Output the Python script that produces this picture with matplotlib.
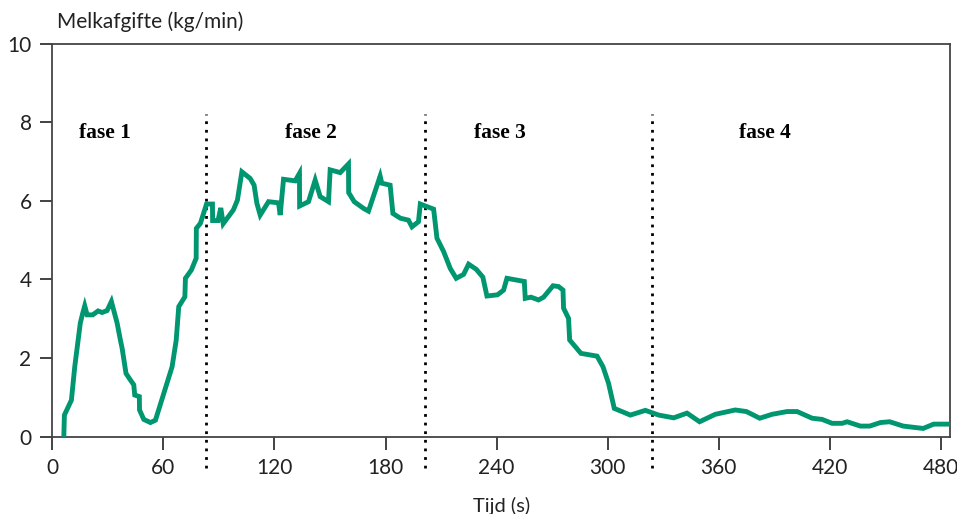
import numpy as np
import matplotlib
matplotlib.use('Agg')
import matplotlib.pyplot as plt

plt.rcParams['font.family'] = ['Lato', 'DejaVu Sans']

# melk flow: time (s), flow (kg/min)
tijd = [6.2, 6.5, 10.3, 12.1, 15.1, 16.4, 17.5, 18.8, 21.8, 24.7, 26.9, 29.6,
        31.9, 35.0, 36.8, 37.7, 39.8, 42.2, 44.0, 44.5, 47.0, 47.1, 49.4, 53.0,
        55.7, 60.2, 64.7, 66.9, 68.3, 71.6, 71.9, 75.1, 77.7, 77.8, 80.0, 83.3,
        86.5, 86.6, 89.5, 91.0, 92.3, 97.8, 100.0, 102.4, 106.9, 109.0, 110.5,
        112.3, 116.8, 122.2, 123.1, 124.9, 131.2, 133.5, 133.6, 138.4, 142.0,
        144.7, 149.2, 150.1, 155.5, 160.0, 160.1, 163.1, 168.1, 170.8, 177.1,
        178.0, 182.5, 184.0, 188.0, 192.4, 194.3, 197.8, 198.8, 206.0, 207.8,
        211.4, 215.0, 218.2, 222.2, 224.9, 229.0, 232.6, 234.8, 240.5, 243.8,
        245.6, 255.0, 255.5, 258.6, 262.7, 265.4, 270.5, 273.5, 275.9, 276.2,
        278.9, 279.5, 285.6, 294.3, 297.5, 300.5, 303.6, 312.3, 320.4, 327.6,
        335.7, 342.9, 349.7, 358.2, 369.0, 375.0, 382.2, 388.9, 397.0, 402.4,
        410.5, 415.9, 421.3, 426.7, 429.4, 436.6, 441.6, 447.4, 452.4, 459.7,
        465.1, 470.5, 476.2, 490.0]
melk = [0.0, 0.55, 0.93, 1.78, 2.89, 3.14, 3.33, 3.10, 3.10, 3.20, 3.16, 3.21,
        3.44, 2.89, 2.45, 2.25, 1.61, 1.44, 1.32, 1.06, 1.02, 0.68, 0.44, 0.36,
        0.42, 1.10, 1.78, 2.45, 3.31, 3.56, 4.03, 4.24, 4.54, 5.30, 5.43, 5.92,
        5.92, 5.50, 5.50, 5.82, 5.42, 5.77, 6.02, 6.74, 6.57, 6.40, 5.94,
        5.64, 5.98, 5.95, 5.64, 6.55, 6.51, 6.70, 5.87, 5.98, 6.53,
        6.11, 5.98, 6.79, 6.72, 6.94, 6.21, 5.98, 5.81, 5.74, 6.63,
        6.45, 6.40, 5.68, 5.56, 5.51, 5.34, 5.47, 5.92, 5.79, 5.05,
        4.71, 4.28, 4.03, 4.13, 4.39, 4.26, 4.06, 3.58, 3.61, 3.73,
        4.03, 3.95, 3.52, 3.55, 3.48, 3.55, 3.84, 3.82, 3.73, 3.27,
        3.01, 2.46, 2.12, 2.05, 1.78, 1.36, 0.72, 0.55, 0.67, 0.55,
        0.48, 0.60, 0.38, 0.57, 0.68, 0.64, 0.47, 0.57, 0.64, 0.64,
        0.47, 0.44, 0.34, 0.34, 0.38, 0.27, 0.27, 0.36, 0.38, 0.27,
        0.24, 0.21, 0.32, 0.32]

fase_grens = [83, 201.5, 324]
fase_namen = ['fase 1', 'fase 2', 'fase 3', 'fase 4']
fase_x = [28.5, 139.5, 242, 385]

fig = plt.figure(figsize=(9.57, 5.14), dpi=100)
ax = fig.add_axes([0.0547, 0.1504, 0.9380, 0.7646])

ax.plot(tijd, melk, color='#009670', lw=3.5, solid_joinstyle='miter', zorder=3)

for g in fase_grens:
    ax.plot([g, g], [-0.8, 8.2], color='black', lw=2.0,
            linestyle=(0, (1, 2.1)), clip_on=False, zorder=2)

for naam, fx in zip(fase_namen, fase_x):
    ax.text(fx, 7.72, naam, ha='center', va='center', fontsize=15.5,
            fontweight='bold', family=['Liberation Serif', 'DejaVu Serif'])

ax.set_xlim(0, 485)
ax.set_ylim(0, 10)
ax.set_xticks([0, 60, 120, 180, 240, 300, 360, 420, 480])
ax.set_yticks([0, 2, 4, 6, 8, 10])
ax.tick_params(direction='out', length=9, width=1.2, colors='#222222',
               labelsize=15, pad=6)
for s in ax.spines.values():
    s.set_color('#444444')
    s.set_linewidth(1.3)

ax.set_xlabel('Tijd (s)', fontsize=14.5, labelpad=14, color='#222222')
fig.text(0.060, 0.957, 'Melkafgifte (kg/min)', fontsize=15, color='#222222',
         ha='left', va='center')

fig.savefig('out.png', dpi=100)
